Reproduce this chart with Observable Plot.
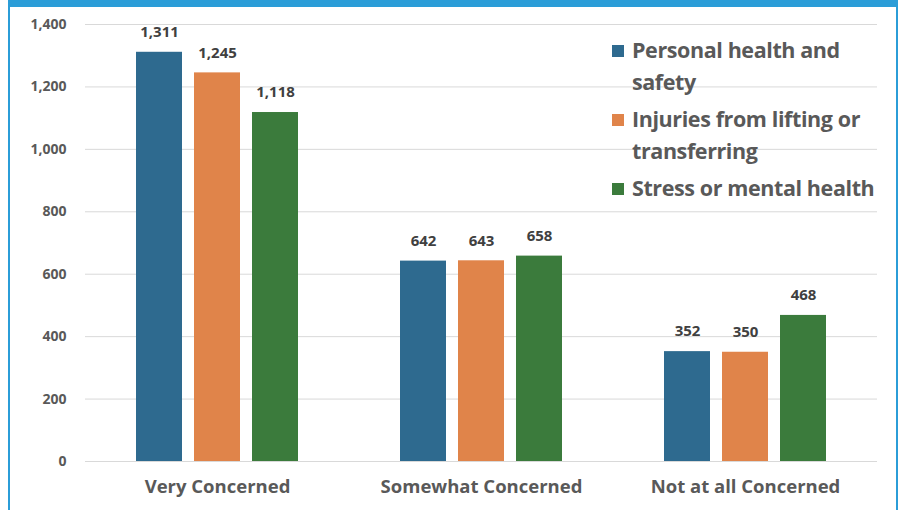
<!DOCTYPE html>
<html><head><meta charset="utf-8">
<script src="https://cdn.jsdelivr.net/npm/d3@7"></script>
<script src="https://cdn.jsdelivr.net/npm/@observablehq/plot@0.6"></script>
<style>
body{margin:0;background:#fff;}
#wrap{position:relative;width:899px;height:510px;overflow:hidden;font-family:"Open Sans",sans-serif;background:#fff;}
#frame{position:absolute;left:8px;top:0;width:890px;height:540px;border:2px solid #2b9dd8;border-top:7px solid #2b9dd8;box-sizing:border-box;pointer-events:none;}
#chart{position:absolute;left:0;top:0;}
#chart [aria-label^="fx-axis"] text{font-size:18.5px;font-weight:700;}
#legend{position:absolute;left:612px;top:34px;color:#595959;font-weight:700;font-size:21.5px;line-height:32px;letter-spacing:-0.4px;}
.item{display:flex;align-items:flex-start;margin-bottom:5px;}
.sw{width:12px;height:12px;flex:none;margin-top:11px;margin-right:8px;}
</style>
</head><body>
<div id="wrap"><div id="chart"></div><div id="legend"></div><div id="frame"></div></div>
<script>
const categories = ["Very Concerned", "Somewhat Concerned", "Not at all Concerned"];
const series = ["Personal health and safety", "Injuries from lifting or transferring", "Stress or mental health"];
const legendLines = [["Personal health and", "safety"], ["Injuries from lifting or", "transferring"], ["Stress or mental health"]];
const personalHealth = [1311, 642, 352];
const injuries = [1245, 643, 350];
const stress = [1118, 658, 468];
const yTicks = [0, 200, 400, 600, 800, 1000, 1200, 1400];
const colors = ["#2e6a8f", "#e0844a", "#3b7b3c"];

const seriesValues = [personalHealth, injuries, stress];
const data = [];
categories.forEach((c, i) => series.forEach((s, j) => data.push({category: c, series: s, value: seriesValues[j][i]})));

const fmt = d3.format(",");
const chart = Plot.plot({
  width: 899,
  height: 510,
  marginLeft: 85,
  marginRight: 22,
  marginTop: 24,
  marginBottom: 49,
  style: {fontFamily: "Open Sans, sans-serif", fontSize: "14px", fontWeight: 700, color: "#595959", background: "transparent"},
  fx: {domain: categories, padding: 0, axis: "bottom", label: null, tickSize: 0, tickPadding: 18},
  x: {domain: series, axis: null, paddingInner: 0.2, paddingOuter: 0.86},
  y: {domain: [0, 1400], ticks: yTicks, tickFormat: fmt, grid: true, label: null, tickSize: 0, tickPadding: 19},
  color: {domain: series, range: colors},
  marks: [
    Plot.barY(data, {fx: "category", x: "series", y: "value", fill: "series"}),
    Plot.text(data, {fx: "category", x: "series", y: "value", text: d => fmt(d.value), dy: -20, fill: "#404040", fontSize: 15, fontWeight: 700})
  ]
});
document.getElementById("chart").appendChild(chart);
chart.querySelectorAll('[aria-label^="y-grid"] line, [aria-label^="y-axis"] line').forEach(l => { l.setAttribute("stroke", "#d9d9d9"); l.setAttribute("stroke-opacity", 1); });

const legend = document.getElementById("legend");
legendLines.forEach((lines, i) => {
  const item = document.createElement("div");
  item.className = "item";
  const sw = document.createElement("div");
  sw.className = "sw";
  sw.style.background = colors[i];
  const txt = document.createElement("div");
  txt.innerHTML = lines.join("<br>");
  item.appendChild(sw);
  item.appendChild(txt);
  legend.appendChild(item);
});
</script>
</body></html>
